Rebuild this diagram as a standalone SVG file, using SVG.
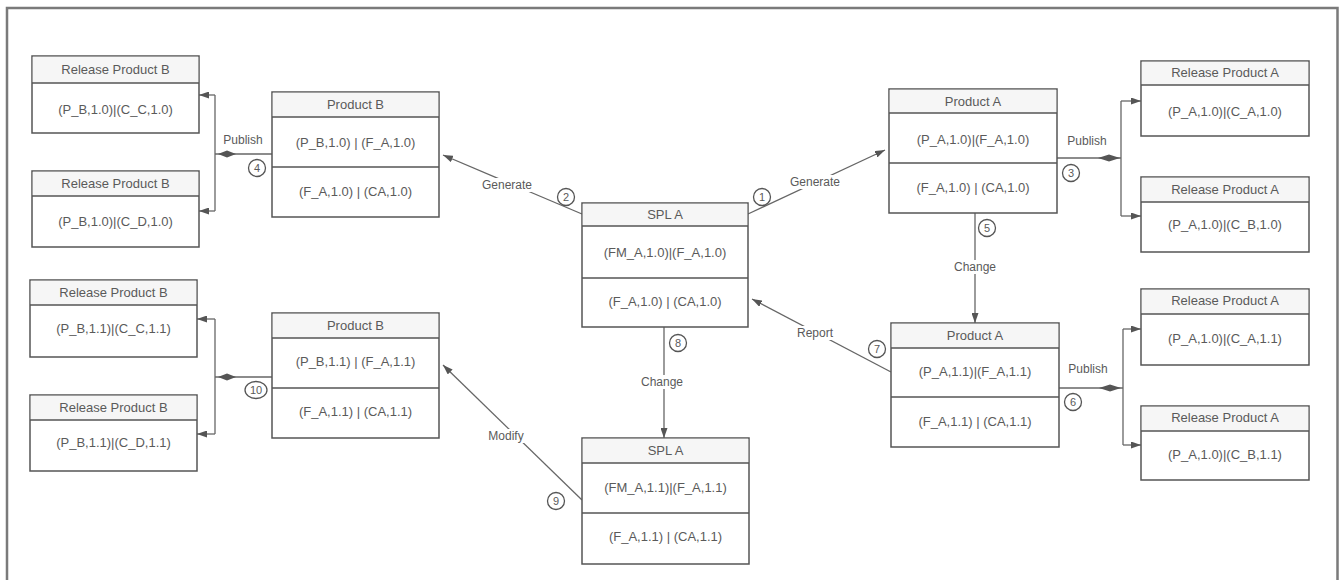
<svg xmlns="http://www.w3.org/2000/svg" width="1341" height="580" viewBox="0 0 1341 580">
  <style>
    .box { fill: #ffffff; stroke: #555555; stroke-width: 1.5; }
    .hdr { fill: #f6f6f6; stroke: none; }
    .sep { stroke: #555555; stroke-width: 1.5; }
    text { font-family: "Liberation Sans", Arial, sans-serif; font-size: 12px; fill: #5a5a5a; text-anchor: middle; }
    .node text { font-size: 13px; }
    .conn { stroke: #666666; stroke-width: 1.3; fill: none; }
    .lblbg { fill: #ffffff; }
    .num { fill: #ffffff; stroke: #555555; stroke-width: 1.3; }
    .numtxt { font-size: 11px; }
    .diam { fill: #555555; }
    .frame { fill: none; stroke: #7a7a7a; }
  </style>
  <defs>
    <marker id="arrow" markerWidth="10" markerHeight="7" refX="10" refY="3.5" orient="auto" markerUnits="userSpaceOnUse">
      <path d="M0,0 L10,3.5 L0,7 Z" fill="#555555"/>
    </marker>
  </defs>

  <rect width="1341" height="580" fill="#ffffff"/>
  <!-- outer frame -->
  <path class="frame" d="M7,582 V8 H1337.5 V582" stroke-width="2.5"/>

  <!-- connectors -->
  <g id="connectors">
    <!-- 1: SPL A -> Product A -->
    <line class="conn" x1="748" y1="214" x2="885" y2="150" marker-end="url(#arrow)"/>
    <rect class="lblbg" x="788" y="175" width="54" height="14"/>
    <text x="815" y="186">Generate</text>
    <circle class="num" cx="762" cy="197" r="8.5"/>
    <text class="numtxt" x="762" y="201">1</text>

    <!-- 2: SPL A -> Product B -->
    <line class="conn" x1="582" y1="214" x2="443" y2="155" marker-end="url(#arrow)"/>
    <rect class="lblbg" x="480" y="178" width="54" height="14"/>
    <text x="507" y="189">Generate</text>
    <circle class="num" cx="566" cy="197" r="8.5"/>
    <text class="numtxt" x="566" y="201">2</text>

    <!-- 3: Product A publish -->
    <line class="conn" x1="1057" y1="158" x2="1121" y2="158"/>
    <polygon class="diam" points="1098,158 1109,154.5 1120,158 1109,161.5"/>
    <line class="conn" x1="1121" y1="101" x2="1121" y2="216"/>
    <line class="conn" x1="1121" y1="101" x2="1141" y2="101" marker-end="url(#arrow)"/>
    <line class="conn" x1="1121" y1="216" x2="1141" y2="216" marker-end="url(#arrow)"/>
    <text x="1087" y="145">Publish</text>
    <circle class="num" cx="1071" cy="173" r="8.5"/>
    <text class="numtxt" x="1071" y="177">3</text>

    <!-- 4: Product B publish -->
    <line class="conn" x1="272" y1="154" x2="215" y2="154"/>
    <polygon class="diam" points="218,154 227,150.5 236,154 227,157.5"/>
    <line class="conn" x1="215" y1="95" x2="215" y2="211"/>
    <line class="conn" x1="215" y1="95" x2="199" y2="95" marker-end="url(#arrow)"/>
    <line class="conn" x1="215" y1="211" x2="199" y2="211" marker-end="url(#arrow)"/>
    <text x="243" y="144">Publish</text>
    <circle class="num" cx="257" cy="168" r="8.5"/>
    <text class="numtxt" x="257" y="172">4</text>

    <!-- 5: Product A change -->
    <line class="conn" x1="975" y1="213" x2="975" y2="323" marker-end="url(#arrow)"/>
    <rect class="lblbg" x="954" y="260" width="42" height="14"/>
    <text x="975" y="271">Change</text>
    <circle class="num" cx="987" cy="228" r="8.5"/>
    <text class="numtxt" x="987" y="232">5</text>

    <!-- 6: Product A 1.1 publish -->
    <line class="conn" x1="1059" y1="388" x2="1123" y2="388"/>
    <polygon class="diam" points="1099,388 1110,384.5 1121,388 1110,391.5"/>
    <line class="conn" x1="1123" y1="329" x2="1123" y2="445"/>
    <line class="conn" x1="1123" y1="329" x2="1141" y2="329" marker-end="url(#arrow)"/>
    <line class="conn" x1="1123" y1="445" x2="1141" y2="445" marker-end="url(#arrow)"/>
    <text x="1088" y="373">Publish</text>
    <circle class="num" cx="1073" cy="402" r="8.5"/>
    <text class="numtxt" x="1073" y="406">6</text>

    <!-- 7: Product A 1.1 reports to SPL A -->
    <line class="conn" x1="891" y1="372" x2="752" y2="299" marker-end="url(#arrow)"/>
    <rect class="lblbg" x="795" y="326" width="40" height="14"/>
    <text x="815" y="337">Report</text>
    <circle class="num" cx="877" cy="349" r="8.5"/>
    <text class="numtxt" x="877" y="353">7</text>

    <!-- 8: SPL A change -->
    <line class="conn" x1="664" y1="327" x2="664" y2="438" marker-end="url(#arrow)"/>
    <rect class="lblbg" x="640" y="375" width="46" height="14"/>
    <text x="662" y="386">Change</text>
    <circle class="num" cx="678" cy="343" r="8.5"/>
    <text class="numtxt" x="678" y="347">8</text>

    <!-- 9: SPL A 1.1 modifies Product B -->
    <line class="conn" x1="582" y1="500" x2="443" y2="365" marker-end="url(#arrow)"/>
    <rect class="lblbg" x="486" y="429" width="40" height="14"/>
    <text x="506" y="440">Modify</text>
    <circle class="num" cx="556" cy="501" r="8.5"/>
    <text class="numtxt" x="556" y="505">9</text>

    <!-- 10: Product B 1.1 publish -->
    <line class="conn" x1="272" y1="377" x2="215" y2="377"/>
    <polygon class="diam" points="218,377 227,373.5 236,377 227,380.5"/>
    <line class="conn" x1="215" y1="319" x2="215" y2="434"/>
    <line class="conn" x1="215" y1="319" x2="197" y2="319" marker-end="url(#arrow)"/>
    <line class="conn" x1="215" y1="434" x2="197" y2="434" marker-end="url(#arrow)"/>
    <ellipse class="num" cx="256" cy="390" rx="11" ry="8.5"/>
    <text class="numtxt" x="256" y="394">10</text>
  </g>

  <!-- Release Product B (1.0) -->
  <g id="rel-b-cc-10" class="node">
    <rect class="box" x="32" y="56" width="167" height="77"/>
    <rect class="hdr" x="32.75" y="56.75" width="165.5" height="26"/>
    <line class="sep" x1="32" y1="83" x2="199" y2="83" stroke-width="2"/>
    <text x="115.5" y="74">Release Product B</text>
    <text x="115.5" y="114">(P_B,1.0)|(C_C,1.0)</text>
  </g>
  <g id="rel-b-cd-10" class="node">
    <rect class="box" x="32" y="171" width="167" height="76"/>
    <rect class="hdr" x="32.75" y="171.75" width="165.5" height="24"/>
    <line class="sep" x1="32" y1="196" x2="199" y2="196"/>
    <text x="115.5" y="188">Release Product B</text>
    <text x="115.5" y="226">(P_B,1.0)|(C_D,1.0)</text>
  </g>

  <!-- Product B (1.0) -->
  <g id="product-b-10" class="node">
    <rect class="box" x="272" y="92" width="167" height="125"/>
    <rect class="hdr" x="272.75" y="92.75" width="165.5" height="24"/>
    <line class="sep" x1="272" y1="117" x2="439" y2="117"/>
    <line class="sep" x1="272" y1="167" x2="439" y2="167"/>
    <text x="355.5" y="109">Product B</text>
    <text x="355.5" y="147">(P_B,1.0) | (F_A,1.0)</text>
    <text x="355.5" y="196">(F_A,1.0) | (CA,1.0)</text>
  </g>

  <!-- SPL A (1.0) -->
  <g id="spl-a-10" class="node">
    <rect class="box" x="582" y="203" width="166" height="124"/>
    <rect class="hdr" x="582.75" y="203.75" width="164.5" height="22"/>
    <line class="sep" x1="582" y1="226" x2="748" y2="226"/>
    <line class="sep" x1="582" y1="278" x2="748" y2="278"/>
    <text x="665" y="219">SPL A</text>
    <text x="665" y="257">(FM_A,1.0)|(F_A,1.0)</text>
    <text x="665" y="306">(F_A,1.0) | (CA,1.0)</text>
  </g>

  <!-- Product A (1.0) -->
  <g id="product-a-10" class="node">
    <rect class="box" x="889" y="89" width="168" height="124"/>
    <rect class="hdr" x="889.75" y="89.75" width="166.5" height="23"/>
    <line class="sep" x1="889" y1="113" x2="1057" y2="113"/>
    <line class="sep" x1="889" y1="163" x2="1057" y2="163"/>
    <text x="973" y="106">Product A</text>
    <text x="973" y="144">(P_A,1.0)|(F_A,1.0)</text>
    <text x="973" y="192">(F_A,1.0) | (CA,1.0)</text>
  </g>

  <!-- Release Product A (1.0) -->
  <g id="rel-a-ca-10" class="node">
    <rect class="box" x="1141" y="61" width="168" height="75"/>
    <rect class="hdr" x="1141.75" y="61.75" width="166.5" height="23"/>
    <line class="sep" x1="1141" y1="85" x2="1309" y2="85"/>
    <text x="1225" y="77">Release Product A</text>
    <text x="1225" y="116">(P_A,1.0)|(C_A,1.0)</text>
  </g>
  <g id="rel-a-cb-10" class="node">
    <rect class="box" x="1141" y="177" width="168" height="75"/>
    <rect class="hdr" x="1141.75" y="177.75" width="166.5" height="24"/>
    <line class="sep" x1="1141" y1="202" x2="1309" y2="202"/>
    <text x="1225" y="194">Release Product A</text>
    <text x="1225" y="229">(P_A,1.0)|(C_B,1.0)</text>
  </g>

  <!-- Product A (1.1) -->
  <g id="product-a-11" class="node">
    <rect class="box" x="891" y="323" width="168" height="124"/>
    <rect class="hdr" x="891.75" y="323.75" width="166.5" height="24"/>
    <line class="sep" x1="891" y1="348" x2="1059" y2="348"/>
    <line class="sep" x1="891" y1="397" x2="1059" y2="397"/>
    <text x="975" y="340">Product A</text>
    <text x="975" y="376">(P_A,1.1)|(F_A,1.1)</text>
    <text x="975" y="426">(F_A,1.1) | (CA,1.1)</text>
  </g>

  <!-- Release Product A (1.1) -->
  <g id="rel-a-ca-11" class="node">
    <rect class="box" x="1141" y="289" width="168" height="76"/>
    <rect class="hdr" x="1141.75" y="289.75" width="166.5" height="24"/>
    <line class="sep" x1="1141" y1="314" x2="1309" y2="314"/>
    <text x="1225" y="305">Release Product A</text>
    <text x="1225" y="343">(P_A,1.0)|(C_A,1.1)</text>
  </g>
  <g id="rel-a-cb-11" class="node">
    <rect class="box" x="1141" y="406" width="168" height="74"/>
    <rect class="hdr" x="1141.75" y="406.75" width="166.5" height="24"/>
    <line class="sep" x1="1141" y1="431" x2="1309" y2="431"/>
    <text x="1225" y="422">Release Product A</text>
    <text x="1225" y="459">(P_A,1.0)|(C_B,1.1)</text>
  </g>

  <!-- Release Product B (1.1) -->
  <g id="rel-b-cc-11" class="node">
    <rect class="box" x="30" y="280" width="167" height="77"/>
    <rect class="hdr" x="30.75" y="280.75" width="165.5" height="24"/>
    <line class="sep" x1="30" y1="305" x2="197" y2="305"/>
    <text x="113.5" y="297">Release Product B</text>
    <text x="113.5" y="333">(P_B,1.1)|(C_C,1.1)</text>
  </g>
  <g id="rel-b-cd-11" class="node">
    <rect class="box" x="30" y="395" width="167" height="76"/>
    <rect class="hdr" x="30.75" y="395.75" width="165.5" height="24"/>
    <line class="sep" x1="30" y1="420" x2="197" y2="420"/>
    <text x="113.5" y="412">Release Product B</text>
    <text x="113.5" y="447">(P_B,1.1)|(C_D,1.1)</text>
  </g>

  <!-- Product B (1.1) -->
  <g id="product-b-11" class="node">
    <rect class="box" x="272" y="313" width="167" height="125"/>
    <rect class="hdr" x="272.75" y="313.75" width="165.5" height="24"/>
    <line class="sep" x1="272" y1="338" x2="439" y2="338"/>
    <line class="sep" x1="272" y1="388" x2="439" y2="388"/>
    <text x="355.5" y="330">Product B</text>
    <text x="355.5" y="366">(P_B,1.1) | (F_A,1.1)</text>
    <text x="355.5" y="416">(F_A,1.1) | (CA,1.1)</text>
  </g>

  <!-- SPL A (1.1) -->
  <g id="spl-a-11" class="node">
    <rect class="box" x="582" y="438" width="167" height="126"/>
    <rect class="hdr" x="582.75" y="438.75" width="165.5" height="24"/>
    <line class="sep" x1="582" y1="463" x2="749" y2="463"/>
    <line class="sep" x1="582" y1="513" x2="749" y2="513"/>
    <text x="665.5" y="455">SPL A</text>
    <text x="665.5" y="492">(FM_A,1.1)|(F_A,1.1)</text>
    <text x="665.5" y="541">(F_A,1.1) | (CA,1.1)</text>
  </g>
</svg>
